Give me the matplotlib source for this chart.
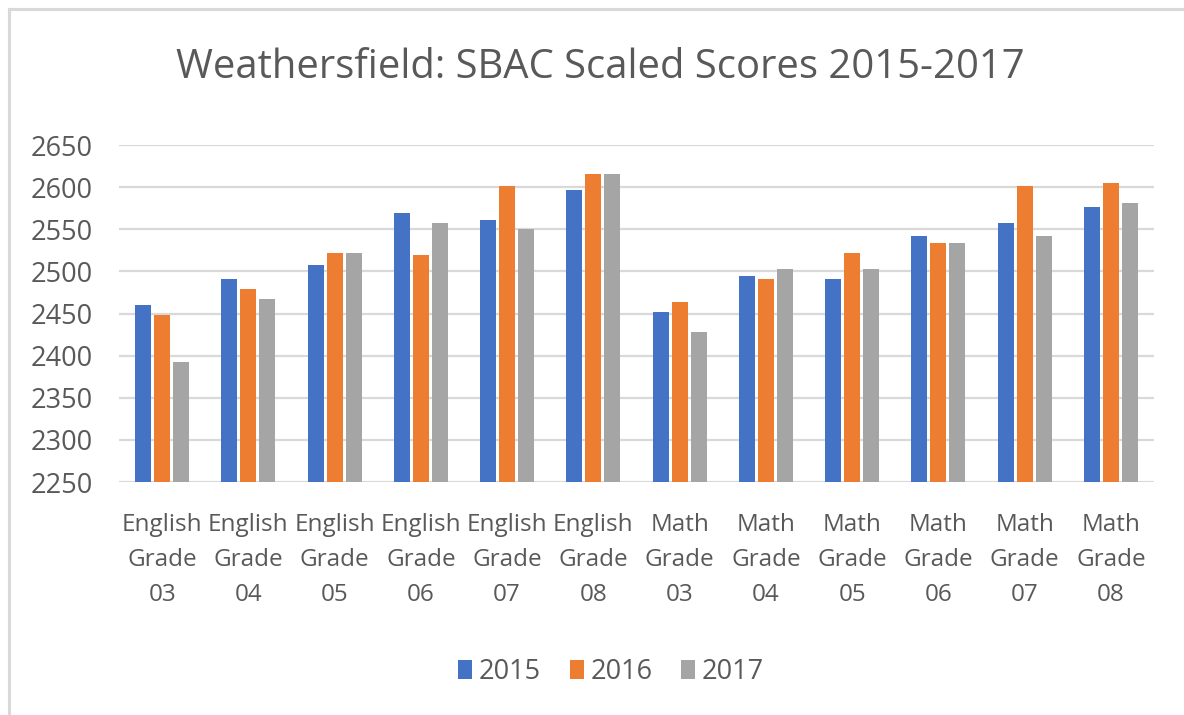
import matplotlib
matplotlib.use("Agg")
import matplotlib.pyplot as plt
from matplotlib.lines import Line2D
import numpy as np

categories = ["English\nGrade\n03", "English\nGrade\n04", "English\nGrade\n05",
              "English\nGrade\n06", "English\nGrade\n07", "English\nGrade\n08",
              "Math\nGrade\n03", "Math\nGrade\n04", "Math\nGrade\n05",
              "Math\nGrade\n06", "Math\nGrade\n07", "Math\nGrade\n08"]
series_names = ["2015", "2016", "2017"]
scores_2015 = [2460, 2491, 2507, 2569, 2561, 2597, 2452, 2495, 2491, 2542, 2558, 2577]
scores_2016 = [2448, 2479, 2522, 2519, 2601, 2616, 2464, 2491, 2522, 2534, 2601, 2605]
scores_2017 = [2393, 2467, 2522, 2558, 2550, 2616, 2428, 2503, 2503, 2534, 2542, 2581]
y_ticks = [2250, 2300, 2350, 2400, 2450, 2500, 2550, 2600, 2650]
title = "Weathersfield: SBAC Scaled Scores 2015-2017"

colors = ["#4472C4", "#ED7D31", "#A5A5A5"]
text_color = "#595959"
grid_color = "#D9D9D9"

plt.rcParams["font.family"] = ["Open Sans", "DejaVu Sans"]

fig = plt.figure(figsize=(11.84, 7.15), dpi=100)
ax = fig.add_axes([119 / 1184, 1 - 482 / 715, (1154 - 119) / 1184, (482 - 145) / 715])

x = np.arange(len(categories))
width = 0.186
offset = 0.22
for i, (vals, name) in enumerate(zip([scores_2015, scores_2016, scores_2017], series_names)):
    ax.bar(x + (i - 1) * offset, np.array(vals) - y_ticks[0], width=width,
           bottom=y_ticks[0], color=colors[i], label=name, zorder=3)

ax.set_xlim(-0.5, len(categories) - 0.5)
ax.set_ylim(y_ticks[0], y_ticks[-1])
ax.set_yticks(y_ticks)
ax.set_yticklabels([str(t) for t in y_ticks])
ax.set_xticks(x)
ax.set_xticklabels(categories, linespacing=1.62)
ax.yaxis.grid(True, color=grid_color, linewidth=1.6, zorder=0)
ax.set_axisbelow(True)
for s in ax.spines.values():
    s.set_visible(False)
ax.tick_params(axis="y", length=0, pad=19, labelsize=19.5, labelcolor=text_color)
ax.tick_params(axis="x", length=0, pad=22, labelsize=17.5, labelcolor=text_color)

fig.text(600 / 1184, 1 - 68 / 715, title, ha="center", va="center",
         fontsize=28.8, color=text_color)

leg = fig.legend(loc="center", bbox_to_anchor=(611 / 1184, 1 - 672 / 715), ncol=3,
                 frameon=False, fontsize=19.5, handlelength=0.52, handleheight=0.7,
                 handletextpad=0.25, columnspacing=1.05, labelcolor=text_color)

# partial chart border (left and top)
fig.add_artist(Line2D([9 / 1184, 9 / 1184], [0, 1 - 9 / 715], color=grid_color, linewidth=2.2,
                      transform=fig.transFigure))
fig.add_artist(Line2D([9 / 1184, 1], [1 - 9 / 715, 1 - 9 / 715], color=grid_color, linewidth=2.2,
                      transform=fig.transFigure))

fig.savefig("out.png", dpi=100, facecolor="white")
